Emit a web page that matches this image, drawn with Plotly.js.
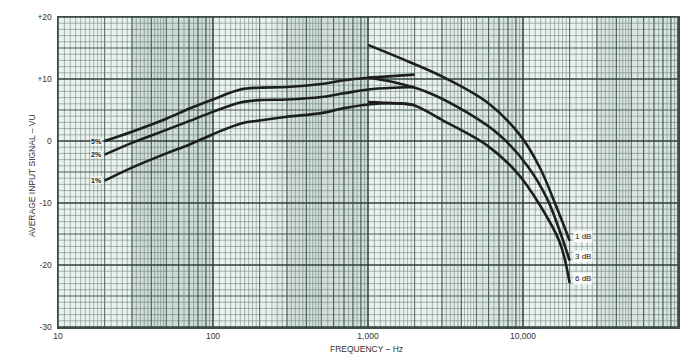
<!DOCTYPE html>
<html><head><meta charset="utf-8">
<script src="https://cdn.plot.ly/plotly-3.0.1.min.js"></script>
<style>html,body{margin:0;padding:0;background:#fff}#chart{width:698px;height:363px}</style>
</head><body><div id="chart"></div>
<script>
// ---- data ----
const freqLow = [20, 30, 50, 70, 100, 150, 200, 300, 500, 700, 1000, 1500, 2000];
const dist5 = [0.0, 1.5, 3.6, 5.2, 6.7, 8.3, 8.6, 8.7, 9.2, 9.8, 10.2, 10.5, 10.7];
const dist2 = [-2.2, -0.3, 1.8, 3.2, 4.7, 6.2, 6.6, 6.7, 7.1, 7.7, 8.3, 8.6, 8.7];
const dist1 = [-6.4, -4.3, -2.0, -0.6, 1.1, 2.8, 3.3, 3.9, 4.5, 5.3, 5.9, 6.1, 5.8];
const freq1dB = [1000, 1600, 2900, 5900, 9600, 12900, 16600, 20000];
const level1dB = [15.5, 13.4, 10.6, 6.2, 0.9, -4.4, -10.9, -16.1];
const freq3dB = [1000, 1450, 2400, 4350, 7100, 10600, 14300, 20000];
const level3dB = [10.2, 9.5, 7.9, 4.6, 0.9, -3.9, -9.3, -19.3];
const freq6dB = [1000, 1450, 1950, 3050, 5860, 9140, 12900, 17300, 20000];
const level6dB = [6.3, 6.1, 5.8, 3.3, -0.7, -5.1, -10.4, -16.4, -22.9];
const lowLabels = ['5%', '2%', '1%'];
const highLabels = ['1 dB', '3 dB', '6 dB'];
const xTickVals = [10, 100, 1000, 10000];
const xTickText = ['10', '100', '1,000', '10,000'];
const yTickVals = [20, 10, 0, -10, -20, -30];
const yTickText = ['+20', '+10', '0', '-10', '-20', '-30'];
const xTitle = 'FREQUENCY \u2013 Hz';
const yTitle = 'AVERAGE INPUT SIGNAL \u2013 VU';

// ---- graph-paper grid ----
const X0 = 10, X1 = 100000, Y0 = -30, Y1 = 20;
const decades = [10, 100, 1000, 10000];
function vLines(vals){ const x=[],y=[]; vals.forEach(v=>{x.push(v,v,null);y.push(Y0,Y1,null);}); return {x,y}; }
function hLines(vals){ const x=[],y=[]; vals.forEach(v=>{x.push(X0,X1,null);y.push(v,v,null);}); return {x,y}; }
const minorV=[], medV=[], majV=[];
decades.forEach(b=>{
  for(let m=1.1;m<2-1e-9;m+=0.1) minorV.push(b*Math.round(m*10)/10);
  for(let m=2.2;m<5-1e-9;m+=0.2) minorV.push(b*Math.round(m*10)/10);
  for(let m=5.5;m<10-1e-9;m+=0.5) minorV.push(b*Math.round(m*10)/10);
  for(let m=2;m<=9;m++) medV.push(b*m);
  majV.push(b);
});
majV.push(X1);
const minorH=[], medH=[], majH=[];
for(let v=Y0; v<=Y1; v++){ if(v%10===0) majH.push(v); else if(v%5===0) medH.push(v); else minorH.push(v); }

function gridTrace(l, color, width){ return {x:l.x, y:l.y, mode:'lines', type:'scatter', line:{color, width}, hoverinfo:'skip'}; }
const traces = [
  gridTrace(vLines(minorV), 'rgba(80,105,98,0.62)', 0.75),
  gridTrace(hLines(minorH), 'rgba(80,105,98,0.62)', 0.75),
  gridTrace(vLines(medV), 'rgba(55,76,70,0.85)', 1),
  gridTrace(hLines(medH), 'rgba(55,76,70,0.9)', 1.1),
  gridTrace(vLines(majV), 'rgba(38,55,50,0.95)', 1.5),
  gridTrace(hLines(majH), 'rgba(38,55,50,0.95)', 1.5),
];
const curveStyle = {color:'#1c1f1e', width:2.6, shape:'spline', smoothing:1};
[[freqLow,dist5],[freqLow,dist2],[freqLow,dist1],[freq1dB,level1dB],[freq3dB,level3dB],[freq6dB,level6dB]].forEach(([x,y])=>{
  traces.push({x, y, type:'scatter', mode:'lines', line:curveStyle, hoverinfo:'skip'});
});

const font = {family:'"Liberation Sans Narrow", "Liberation Sans", Arial, sans-serif', size:8.5, color:'#333'};
const annotations = [];
[dist5, dist2, dist1].forEach((s,i)=>{
  annotations.push({x:Math.log10(freqLow[0]), y:s[0], xref:'x', yref:'y', text:'<b>'+lowLabels[i]+'</b>', showarrow:false,
    xanchor:'right', yanchor:'middle', xshift:-2, font:{...font, size:7, color:'#222'}, bgcolor:'rgba(255,255,255,0.7)', borderpad:0});
});
[[freq1dB,level1dB],[freq3dB,level3dB],[freq6dB,level6dB]].forEach(([f,l],i)=>{
  annotations.push({x:Math.log10(f[f.length-1]), y:l[l.length-1], xref:'x', yref:'y', text:highLabels[i], showarrow:false,
    xanchor:'left', yanchor:'middle', xshift:3, yshift:4, font:{...font, size:8, color:'#222'}, bgcolor:'rgba(255,255,255,0.85)', borderpad:1});
});
annotations.push({xref:'paper', yref:'paper', x:0.498, y:-0.071, text:xTitle, showarrow:false, xanchor:'center', yanchor:'middle', font});
annotations.push({xref:'paper', yref:'paper', x:-0.042, y:0.49, text:yTitle, showarrow:false, textangle:-90, xanchor:'center', yanchor:'middle', font});

// subtle scan-shading bands (paper fractions from log positions)
const bands = [[30,100,0.16],[250,290,0.07],[300,1000,0.14],[3000,4000,0.05],[5000,10000,0.09],[30000,100000,0.09]];
const shapes = bands.map(([a,b,o])=>({type:'rect', xref:'paper', yref:'paper', layer:'below',
  x0:(Math.log10(a)-1)/4, x1:(Math.log10(b)-1)/4, y0:0, y1:1, fillcolor:'rgba(70,105,95,'+o+')', line:{width:0}}));

const axisCommon = {showgrid:false, zeroline:false, showline:true, mirror:true, linecolor:'#3a4c47', linewidth:1.5,
  ticks:'', tickfont:font, fixedrange:true};
const layout = {
  width:698, height:363, margin:{l:58, r:20, t:17, b:36},
  paper_bgcolor:'#ffffff', plot_bgcolor:'#eaf1ee', showlegend:false, hovermode:false,
  xaxis:{...axisCommon, type:'log', range:[1,5], tickvals:xTickVals, ticktext:xTickText},
  yaxis:{...axisCommon, range:[Y0,Y1], tickvals:yTickVals, ticktext:yTickText, ticklabelstandoff:3},
  annotations, shapes
};
Plotly.newPlot('chart', traces, layout, {staticPlot:true, displayModeBar:false});
</script></body></html>
